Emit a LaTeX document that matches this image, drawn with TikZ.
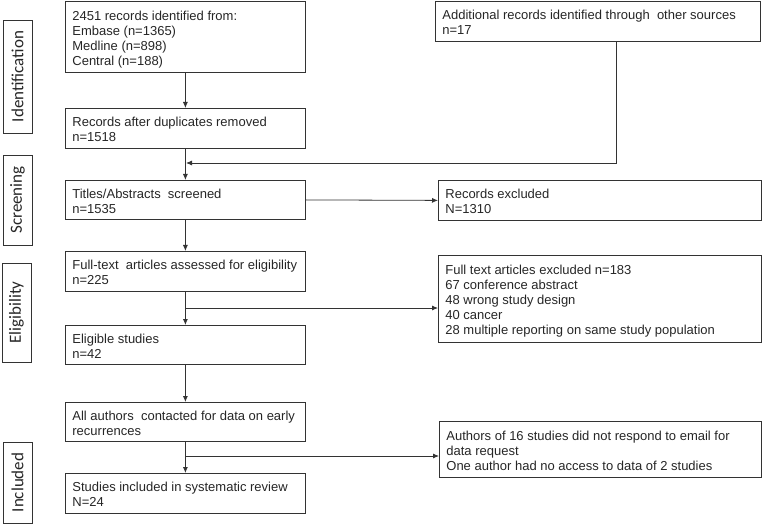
\documentclass[tikz,border=0pt]{standalone}
\usepackage{fontspec}
\setmainfont{Liberation Sans}
\newfontfamily\sidefont{Carlito}
\usetikzlibrary{arrows.meta}
\newcommand{\boxlines}[2]{\makebox[#1][l]{\raisebox{-3bp}[\height][\depth]{\begin{tabular}{@{}l@{}}#2\end{tabular}}}}
\begin{document}
\begin{tikzpicture}[x=1bp,y=-1bp,
  box/.style={draw=black!80,line width=0.8bp,anchor=north west,inner xsep=7bp,inner ysep=0bp,
    font=\fontsize{13bp}{15bp}\selectfont,text=black!85},
  side/.style={draw=black!80,line width=0.8bp,rotate=90,inner sep=0pt,
    font=\sidefont\fontsize{17bp}{20bp}\selectfont,text=black!85},
  conn/.style={draw=black!80,line width=0.8bp},
  arr/.style={conn,-{Latex[length=6bp,width=5bp]}}]
\useasboundingbox (0,0) rectangle (762,526);
% side labels
\node[side,minimum width=113bp,minimum height=29bp] (sid) at (17.5,76.5) {Identification};
\node[side,minimum width=90bp,minimum height=29bp] (ssc) at (17.5,200) {Screening};
\node[side,minimum width=99bp,minimum height=29bp] (sel) at (16.5,312.5) {Eligibility};
\node[side,minimum width=81bp,minimum height=29bp] (sin) at (17.5,482.5) {Included};
% main boxes
\node[box,minimum height=71bp] (b1) at (65,1)
  {\boxlines{226bp}{2451 records identified from:\\Embase (n=1365)\\Medline (n=898)\\Central (n=188)}};
\node[box,minimum height=40bp] (add) at (435,1)
  {\boxlines{311bp}{Additional records identified through\ \ other sources\\n=17}};
\node[box,minimum height=40bp] (b2) at (65,108)
  {\boxlines{226bp}{Records after duplicates removed\\n=1518}};
\node[box,minimum height=39bp] (b3) at (65,180)
  {\boxlines{226bp}{Titles/Abstracts\ \ screened\\n=1535}};
\node[box,minimum height=40bp] (e1) at (438,180)
  {\boxlines{309bp}{Records excluded\\N=1310}};
\node[box,minimum height=40bp] (b4) at (65,251)
  {\boxlines{226bp}{Full-text\ \ articles assessed for eligibility\\n=225}};
\node[box,minimum height=87bp] (e2) at (438,255)
  {\boxlines{309bp}{Full text articles excluded n=183\\67 conference abstract\\48 wrong study design\\40 cancer\\28 multiple reporting on same study population}};
\node[box,minimum height=39bp] (b5) at (65,325)
  {\boxlines{226bp}{Eligible studies\\n=42}};
\node[box,minimum height=39bp] (b6) at (65,402)
  {\boxlines{226bp}{All authors\ \ contacted for data on early\\recurrences}};
\node[box,minimum height=56bp] (e3) at (439,421)
  {\boxlines{308bp}{Authors of 16 studies did not respond to email for\\data request\\One author had no access to data of 2 studies}};
\node[box,minimum height=40bp] (b7) at (65,473)
  {\boxlines{226bp}{Studies included in systematic review\\N=24}};
% connectors
\coordinate (m1) at (186,163);
\coordinate (j1) at (616,163);
\coordinate (m2) at (186,308);
\coordinate (m3) at (186,456);
\draw[arr] (b1.south) -- (b2.north);
\draw[arr] (b2.south) -- (b3.north);
\draw[arr] (j1 |- add.south) -- (j1) -- (m1);
\draw[arr] (b3.east) -- (e1.west);
\draw[arr] (b3.south) -- (b4.north);
\draw[arr] (b4.south) -- (b5.north);
\draw[arr] (m2) -- (m2 -| e2.west);
\draw[arr] (b5.south) -- (b6.north);
\draw[arr] (b6.south) -- (b7.north);
\draw[arr] (m3) -- (m3 -| e3.west);
\end{tikzpicture}
\end{document}
